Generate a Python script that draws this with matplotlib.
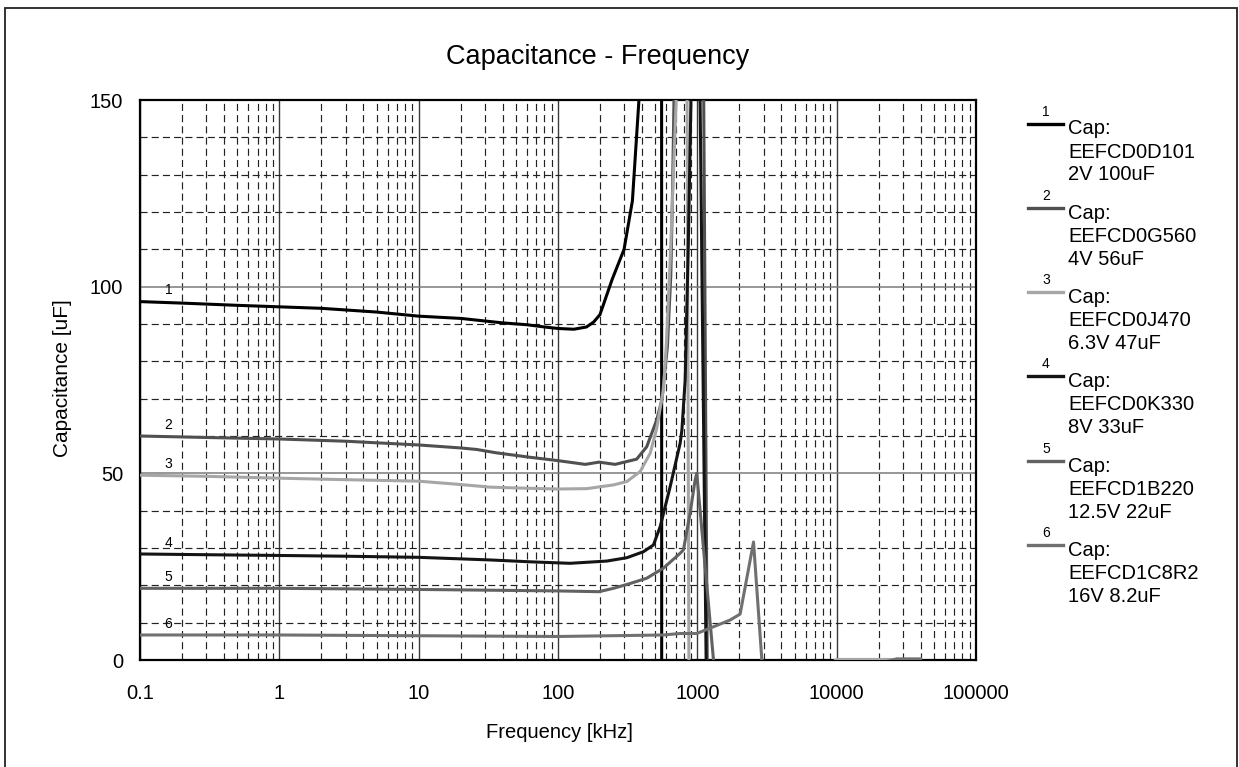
import matplotlib
matplotlib.use("Agg")
import matplotlib.pyplot as plt
from matplotlib.lines import Line2D
from matplotlib.patches import Rectangle
from matplotlib.ticker import FixedLocator, FixedFormatter, MultipleLocator, LogLocator, NullFormatter

plt.rcParams['font.family'] = ['Liberation Sans', 'DejaVu Sans']

# frequency [kHz] / capacitance [uF]
f1 = [0.1, 0.2, 0.5, 1, 2, 5, 10, 20, 40, 60, 80, 100, 130, 160, 180, 200, 245, 298, 342, 381, 450, 540, 570, 800, 2000, 10000, 40000]
c1 = [96, 95.6, 95, 94.6, 94.2, 93.2, 92.1, 91.5, 90.3, 89.8, 89.2, 88.8, 88.6, 89.2, 90.5, 92.5, 102, 110, 123, 150, 600, 3000, -3000, -400, -60, -5, -2]

f2 = [0.1, 0.3, 1, 3, 10, 20, 26, 36, 63, 100, 157, 197, 257, 367, 433, 511, 556, 610, 645, 662, 680, 750, 1090, 1200, 2000, 10000, 40000]
c2 = [60, 59.6, 59.2, 58.6, 57.6, 56.8, 56.4, 55.5, 54.3, 53.4, 52.4, 53, 52.4, 53.8, 57.1, 64.3, 69.6, 84, 103, 123, 150, 400, 200, -50, -40, -5, -2]

f3 = [0.1, 0.3, 1, 3, 10, 20, 32.6, 60, 100, 161, 250, 312, 389, 459, 511, 556, 571, 600, 640, 705, 760, 804, 887, 3000, 9000, 10000, 27000]
c3 = [49.5, 49.2, 48.7, 48.3, 47.9, 47, 46.3, 46, 45.8, 45.9, 46.9, 47.8, 50.5, 55.4, 62, 70, 72.3, 85, 108, 150, 300, 400, -100, -10, -1, 0.15, 0.15]

f4 = [0.1, 0.3, 1, 3, 10, 32.6, 63, 122, 224, 312, 410, 484, 541, 638, 753, 775, 818, 860, 900, 950, 979, 1236, 3000, 40000]
c4 = [28.4, 28.2, 28, 27.8, 27.5, 26.8, 26.3, 25.9, 26.5, 27.4, 29, 30.8, 35.7, 46.4, 58.1, 61.6, 75, 110, 150, 400, 250, -100, -20, -2]

f5 = [0.1, 1, 10, 100, 197, 250, 330, 433, 571, 753, 795, 887, 964, 991, 1306, 1500, 10000, 40000]
c5 = [19.2, 19.2, 18.9, 18.5, 18.3, 19.2, 20.5, 21.9, 24.6, 28.6, 29.5, 39.3, 48.2, 50, 0, -20, -3, -1]

f6 = [0.1, 1, 10, 100, 571, 753, 991, 1718, 2028, 2531, 2904, 3500, 20000, 27000, 40000]
c6 = [6.7, 6.7, 6.5, 6.3, 6.7, 7.1, 7.1, 10.7, 12.3, 31.6, 0, -15, -1, 0.3, 0.3]

freqs = [f1, f2, f3, f4, f5, f6]
caps = [c1, c2, c3, c4, c5, c6]
colors = ['#000000', '#505050', '#a6a6a6', '#141414', '#626262', '#707070']
part_numbers = ['EEFCD0D101', 'EEFCD0G560', 'EEFCD0J470', 'EEFCD0K330', 'EEFCD1B220', 'EEFCD1C8R2']
ratings = ['2V 100uF', '4V 56uF', '6.3V 47uF', '8V 33uF', '12.5V 22uF', '16V 8.2uF']

x_ticks = [0.1, 1, 10, 100, 1000, 10000, 100000]
x_tick_labels = ['0.1', '1', '10', '100', '1000', '10000', '100000']
y_ticks = [0, 50, 100, 150]

W, H = 1239, 767
fig = plt.figure(figsize=(W / 100, H / 100), dpi=100)
ax = fig.add_axes([140 / W, 1 - 660 / H, 836 / W, 560 / H])

for i in range(6):
    ax.plot(freqs[i], caps[i], color=colors[i], lw=2.2, zorder=3)
    ax.text(0.16, caps[i][0] + 3, str(i + 1), ha='center', va='center', fontsize=10, zorder=4)

ax.set_xscale('log')
ax.set_xlim(0.1, 100000)
ax.set_ylim(0, 150)

ax.xaxis.set_major_locator(FixedLocator(x_ticks))
ax.xaxis.set_major_formatter(FixedFormatter(x_tick_labels))
ax.xaxis.set_minor_locator(LogLocator(base=10, subs=range(2, 10), numticks=20))
ax.xaxis.set_minor_formatter(NullFormatter())
ax.yaxis.set_major_locator(FixedLocator(y_ticks))
ax.yaxis.set_minor_locator(MultipleLocator(10))

ax.tick_params(which='both', length=0)
ax.tick_params(axis='x', labelsize=14.5, pad=17)
ax.tick_params(axis='y', labelsize=14.5, pad=12)

ax.grid(True, which='major', axis='y', color='#7a7a7a', lw=1.1)
ax.grid(True, which='major', axis='x', color='#3a3a3a', lw=1.0)
ax.grid(True, which='minor', color='#222222', lw=0.85, ls=(0, (6, 3.5)))
ax.set_axisbelow(True)
for s in ax.spines.values():
    s.set_linewidth(1.6)
    s.set_color('black')

fig.text(598 / W, 1 - 57 / H, 'Capacitance - Frequency', ha='center', va='center', fontsize=19.5)
fig.text(62 / W, 1 - 378 / H, 'Capacitance [uF]', ha='center', va='center', rotation=90, fontsize=15)
fig.text(559 / W, 1 - 733 / H, 'Frequency [kHz]', ha='center', va='center', fontsize=14.5)

# legend drawn beside the plot
for i in range(6):
    ly = 123.5 + 84.3 * i
    fig.add_artist(Line2D([1028 / W, 1063 / W], [1 - ly / H] * 2, color=colors[i], lw=2.4))
    fig.text(1046 / W, 1 - (ly - 12) / H, str(i + 1), ha='center', va='center', fontsize=10)
    for j, t in enumerate(['Cap:', part_numbers[i], ratings[i]]):
        fig.text(1068 / W, 1 - (ly + 11 + 23 * j) / H, t, ha='left', va='baseline', fontsize=14.5)

# outer frame
fig.add_artist(Rectangle((5 / W, -0.1), 1232 / W, 1.1 - 8 / H, transform=fig.transFigure,
                         fill=False, ec='#222222', lw=1.3))

fig.savefig('out.png', dpi=100)
